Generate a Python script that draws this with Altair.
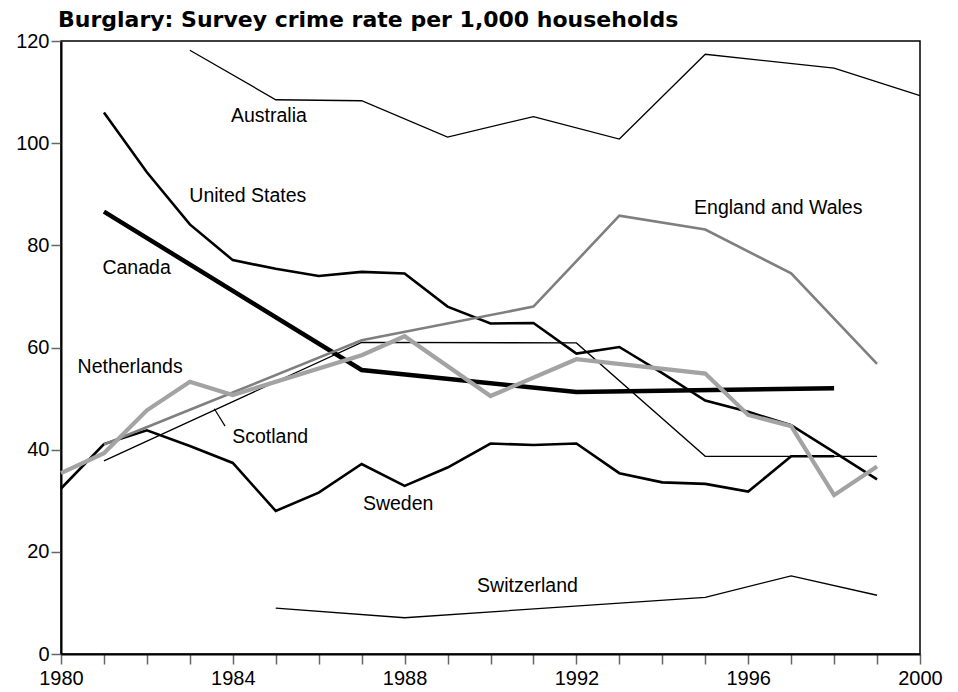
import altair as alt
import pandas as pd

FONT = "Liberation Sans"

australia_years = [1983, 1985, 1987, 1989, 1991, 1993, 1995, 1998, 2000]
australia_vals = [118.2, 108.5, 108.3, 101.2, 105.2, 100.8, 117.4, 114.7, 109.3]

us_years = [1981, 1982, 1983, 1984, 1985, 1986, 1987, 1988, 1989, 1990,
            1991, 1992, 1993, 1994, 1995, 1996, 1997, 1998, 1999]
us_vals = [106.0, 94.3, 84.1, 77.1, 75.4, 74.0, 74.8, 74.5, 68.0, 64.7,
           64.8, 58.8, 60.1, 55.0, 49.6, 47.4, 44.8, 39.5, 34.2]

canada_years = [1981, 1987, 1992, 1998]
canada_vals = [86.6, 55.6, 51.3, 52.0]

england_years = [1981, 1983, 1987, 1991, 1993, 1995, 1997, 1999]
england_vals = [41.0, 47.8, 61.4, 68.0, 85.8, 83.1, 74.5, 56.8]

netherlands_years = [1980, 1981, 1982, 1983, 1984, 1987, 1988, 1990, 1992,
                     1995, 1996, 1997, 1998, 1999]
netherlands_vals = [35.4, 39.3, 47.7, 53.3, 50.7, 58.5, 62.2, 50.5, 57.7,
                    54.9, 46.8, 44.6, 31.1, 36.7]

scotland_years = [1981, 1987, 1992, 1995, 1999]
scotland_vals = [37.8, 61.0, 60.9, 38.7, 38.7]

sweden_years = [1980, 1981, 1982, 1983, 1984, 1985, 1986, 1987, 1988, 1989,
                1990, 1991, 1992, 1993, 1994, 1995, 1996, 1997, 1998]
sweden_vals = [32.4, 41.1, 43.8, 40.7, 37.4, 28.0, 31.6, 37.2, 32.9, 36.5,
               41.2, 40.9, 41.2, 35.4, 33.6, 33.3, 31.8, 38.7, 38.7]

switzerland_years = [1985, 1988, 1995, 1997, 1999]
switzerland_vals = [9.0, 7.1, 11.1, 15.3, 11.5]

# label annotations (text, year, value)
label_texts = ["Australia", "United States", "England and Wales", "Canada",
               "Netherlands", "Scotland", "Sweden", "Switzerland"]
label_years = [1984.84, 1984.35, 1996.7, 1981.76, 1981.61, 1984.87, 1987.85, 1990.86]
label_vals = [105.3, 89.6, 87.3, 75.5, 56.1, 42.5, 29.4, 13.4]

x_ticks = list(range(1980, 2001))
y_ticks = [0, 20, 40, 60, 80, 100, 120]

series = [
    ("Australia", australia_years, australia_vals, "#000000", 1.3),
    ("Switzerland", switzerland_years, switzerland_vals, "#000000", 1.3),
    ("Scotland", scotland_years, scotland_vals, "#000000", 1.3),
    ("Sweden", sweden_years, sweden_vals, "#000000", 2.6),
    ("United States", us_years, us_vals, "#000000", 2.6),
    ("Canada", canada_years, canada_vals, "#000000", 4.5),
    ("England and Wales", england_years, england_vals, "#7f7f7f", 2.6),
    ("Netherlands", netherlands_years, netherlands_vals, "#a3a3a3", 4.2),
]

x_scale = alt.Scale(domain=[1980, 2000], nice=False, zero=False)
y_scale = alt.Scale(domain=[0, 120], nice=False)

x_axis = alt.Axis(values=x_ticks, format="d", title=None, grid=False,
                  labelExpr="datum.value % 4 == 0 ? datum.label : ''",
                  labelFont=FONT, labelFontSize=20, labelColor="#000",
                  tickSize=10, tickColor="#666", tickWidth=1.5,
                  domainColor="#000", domainWidth=2, labelPadding=4,
                  labelFlush=False)
y_axis = alt.Axis(values=y_ticks, title=None, grid=False,
                  labelFont=FONT, labelFontSize=20, labelColor="#000",
                  tickSize=10, tickColor="#666", tickWidth=1.5,
                  domainColor="#000", domainWidth=2, labelPadding=2)


def xe(field):
    return alt.X(field, type="quantitative", scale=x_scale, axis=x_axis)


def ye(field):
    return alt.Y(field, type="quantitative", scale=y_scale, axis=y_axis)


layers = []
for name, yrs, vals, color, width in series:
    df = pd.DataFrame({"year": yrs, "value": vals})
    layers.append(
        alt.Chart(df).mark_line(color=color, strokeWidth=width, strokeJoin="miter")
        .encode(x=xe("year"), y=ye("value"))
    )

lab_df = pd.DataFrame({"text": label_texts, "year": label_years, "value": label_vals})
labels = alt.Chart(lab_df).mark_text(font=FONT, fontSize=19.5, color="#000",
                                     align="center", baseline="middle").encode(
    x=xe("year"), y=ye("value"), text="text:N",
)

leader_df = pd.DataFrame({"x": [1983.57], "y": [48.0], "x2": [1983.82], "y2": [44.6]})
leader = alt.Chart(leader_df).mark_rule(color="#000", strokeWidth=1.2).encode(
    x=xe("x"), y=ye("y"), x2="x2:Q", y2="y2:Q",
)

chart = alt.layer(*layers, leader, labels).properties(
    width=859, height=613,
    title=alt.TitleParams("Burglary: Survey crime rate per 1,000 households",
                          anchor="start", font="DejaVu Sans", fontSize=22, fontWeight="bold",
                          color="#000", dx=-3, dy=3, offset=2, frame="group"),
    autosize=alt.AutoSizeParams(type="none"),
    padding={"left": 53, "top": 33, "right": 30, "bottom": 36},
).configure_view(stroke="#000", strokeWidth=1.5)

chart.save("out.html", embed_options={"renderer": "svg", "actions": False})
